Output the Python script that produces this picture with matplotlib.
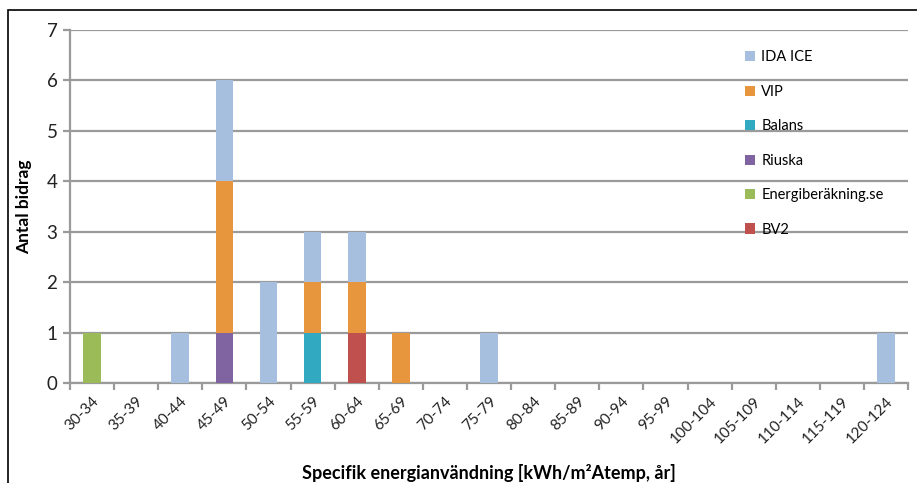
import numpy as np
import matplotlib.pyplot as plt
from matplotlib.patches import Rectangle

plt.rcParams['font.family'] = ['Lato', 'DejaVu Sans']

categories = ['30-34', '35-39', '40-44', '45-49', '50-54', '55-59', '60-64',
              '65-69', '70-74', '75-79', '80-84', '85-89', '90-94', '95-99',
              '100-104', '105-109', '110-114', '115-119', '120-124']

# stacked bottom to top
bv2 =      [0, 0, 0, 0, 0, 0, 1, 0, 0, 0, 0, 0, 0, 0, 0, 0, 0, 0, 0]
energi =   [1, 0, 0, 0, 0, 0, 0, 0, 0, 0, 0, 0, 0, 0, 0, 0, 0, 0, 0]
riuska =   [0, 0, 0, 1, 0, 0, 0, 0, 0, 0, 0, 0, 0, 0, 0, 0, 0, 0, 0]
balans =   [0, 0, 0, 0, 0, 1, 0, 0, 0, 0, 0, 0, 0, 0, 0, 0, 0, 0, 0]
vip =      [0, 0, 0, 3, 0, 1, 1, 1, 0, 0, 0, 0, 0, 0, 0, 0, 0, 0, 0]
ida_ice =  [0, 0, 1, 2, 2, 1, 1, 0, 0, 1, 0, 0, 0, 0, 0, 0, 0, 0, 1]

series = [('BV2', bv2, '#c0504d'),
          ('Energiberäkning.se', energi, '#9bbb59'),
          ('Riuska', riuska, '#8064a2'),
          ('Balans', balans, '#31a9c1'),
          ('VIP', vip, '#e8963e'),
          ('IDA ICE', ida_ice, '#a7bfdf')]

fig = plt.figure(figsize=(9.17, 4.83), dpi=100)
ax = fig.add_axes([0.0763, 0.207, 0.914, 0.731])

x = np.arange(len(categories))
bottom = np.zeros(len(categories))
handles = []
for name, vals, col in series:
    b = ax.bar(x, vals, width=0.4, bottom=bottom, color=col, label=name, zorder=3)
    handles.append(b)
    bottom += np.array(vals)

ax.set_xlim(-0.5, len(categories) - 0.5)
ax.set_ylim(0, 7)
ax.set_yticks(range(8))
ax.grid(axis='y', color='#9a9a9a', linewidth=1.6, zorder=0)

ax.set_xticks(x)
ax.set_xticklabels(categories, rotation=45, ha='right', rotation_mode='anchor',
                   fontsize=11, color='#222222')
ax.set_xticks(np.arange(-0.5, len(categories)), minor=True)
ax.tick_params(axis='x', which='major', length=0, pad=8)
ax.tick_params(axis='x', which='minor', length=5, width=1.6, color='#9a9a9a')
ax.tick_params(axis='y', length=5, width=1.6, color='#9a9a9a', labelsize=13.5,
               labelcolor='#222222', pad=4)

for side in ['top', 'right']:
    ax.spines[side].set_visible(False)
for side in ['left', 'bottom']:
    ax.spines[side].set_color('#9a9a9a')
    ax.spines[side].set_linewidth(1.6)

ax.set_ylabel('Antal bidrag', fontsize=12.5, fontweight='bold', labelpad=10)
ax.set_xlabel('Specifik energianvändning [kWh/m²Atemp, år]', fontsize=13,
              fontweight='bold', labelpad=13)

leg = ax.legend(handles[::-1], [s[0] for s in series][::-1], frameon=False,
                loc='upper left', bbox_to_anchor=(0.79, 0.979), fontsize=10.5,
                handlelength=0.7, handleheight=0.7, handletextpad=0.4,
                labelspacing=1.40)

# outer chart border
fig.patches.append(Rectangle((8 / 917, -0.1), 1.2, (473 / 483) + 0.1,
                             transform=fig.transFigure, fill=False,
                             edgecolor='black', linewidth=1.2))

fig.savefig('out.png', dpi=100)
